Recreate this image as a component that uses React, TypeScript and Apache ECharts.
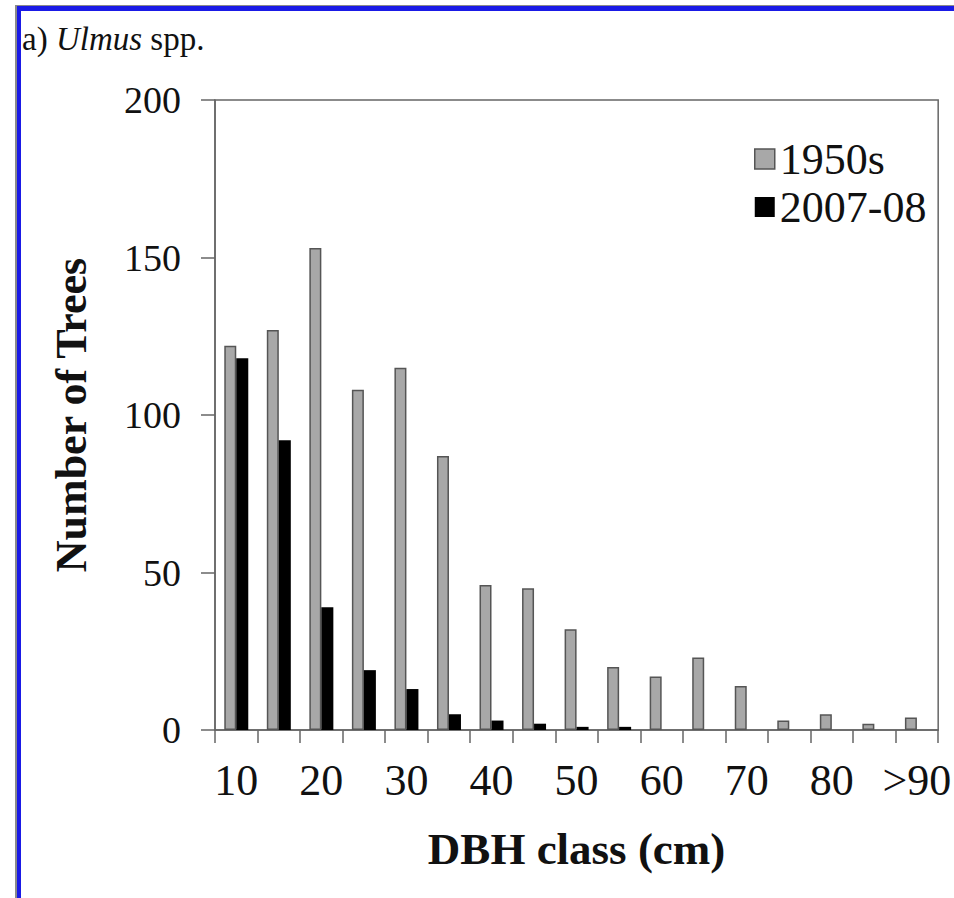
import React, { useEffect, useRef } from "react";
import * as echarts from "echarts";

const categories = ["10", "15", "20", "25", "30", "35", "40", "45", "50", "55", "60", "65", "70", "75", "80", "85", ">90"];
const trees1950s = [122, 127, 153, 108, 115, 87, 46, 45, 32, 20, 17, 23, 14, 3, 5, 2, 4];
const trees2007 = [118, 92, 39, 19, 13, 5, 3, 2, 1, 1, 0, 0, 0, 0, 0, 0, 0];
const yTicks = { min: 0, max: 200, interval: 50 };

const FONT = "Liberation Serif";

export default function App() {
  const ref = useRef<HTMLDivElement>(null);
  useEffect(() => {
    if (!ref.current) return;
    const chart = echarts.init(ref.current, undefined, { renderer: "svg" });
    const legendText = { fontFamily: FONT, fontSize: 44, color: "#111" };
    chart.setOption({
      animation: false,
      backgroundColor: "#ffffff",
      textStyle: { fontFamily: FONT, color: "#111" },
      graphic: [
        { type: "rect", shape: { x: 15, y: 5, width: 939, height: 1 }, style: { fill: "#8a8a8a" }, silent: true },
        { type: "rect", shape: { x: 17, y: 6, width: 937, height: 5 }, style: { fill: "#1a1ae6" }, silent: true },
        { type: "rect", shape: { x: 15, y: 5, width: 2, height: 893 }, style: { fill: "#8a8a8a" }, silent: true },
        { type: "rect", shape: { x: 17, y: 6, width: 4, height: 892 }, style: { fill: "#1a1ae6" }, silent: true },
        {
          type: "text",
          left: 22,
          top: 22,
          style: {
            text: "{n|a) }{i|Ulmus}{n| spp.}",
            rich: {
              n: { fontFamily: FONT, fontSize: 33, fill: "#111" },
              i: { fontFamily: FONT, fontSize: 33, fontStyle: "italic", fill: "#111" },
            },
          },
        },
      ],
      legend: {
        orient: "vertical",
        left: 754,
        top: 137,
        itemWidth: 20,
        itemHeight: 20,
        itemGap: 4,
        padding: 0,
        formatter: "{s|{name}}",
        textStyle: { ...legendText, rich: { s: legendText } },
        data: [
          { name: "1950s", icon: "rect", itemStyle: { color: "#a8a8a8", borderColor: "#555", borderWidth: 1.5 }, textStyle: legendText },
          { name: "2007-08", icon: "rect", itemStyle: { color: "#000", borderColor: "#000", borderWidth: 0 }, textStyle: legendText },
        ],
      },
      grid: {
        left: 215,
        top: 100,
        width: 734,
        height: 630,
        show: true,
        borderColor: "#666",
        borderWidth: 1.5,
        containLabel: false,
      },
      xAxis: {
        type: "category",
        data: categories,
        name: "DBH class (cm)",
        nameLocation: "middle",
        nameGap: 96,
        nameTextStyle: { fontFamily: FONT, fontSize: 45, fontWeight: "bold", color: "#111" },
        axisLine: { lineStyle: { color: "#666", width: 1.5 } },
        axisTick: { show: true, alignWithLabel: false, interval: 0, length: 13, lineStyle: { color: "#666", width: 1.5 } },
        axisLabel: { interval: 1, margin: 28, fontFamily: FONT, fontSize: 44, color: "#111" },
        splitLine: { show: false },
      },
      yAxis: {
        type: "value",
        min: yTicks.min,
        max: yTicks.max,
        interval: yTicks.interval,
        name: "Number of Trees",
        nameLocation: "middle",
        nameGap: 122,
        nameRotate: 90,
        nameTextStyle: { fontFamily: FONT, fontSize: 44, fontWeight: "bold", color: "#111" },
        axisLine: { show: true, lineStyle: { color: "#666", width: 1.5 } },
        axisTick: { show: true, length: 14, lineStyle: { color: "#666", width: 1.5 } },
        axisLabel: { margin: 34, fontFamily: FONT, fontSize: 38, color: "#111" },
        splitLine: { show: false },
      },
      series: [
        {
          name: "1950s",
          type: "bar",
          data: trees1950s,
          barWidth: 12,
          barGap: "0%",
          itemStyle: { color: "#a8a8a8", borderColor: "#555", borderWidth: 1.5 },
        },
        {
          name: "2007-08",
          type: "bar",
          data: trees2007,
          barWidth: 12,
          barGap: "0%",
          itemStyle: { color: "#000" },
        },
      ],
    });
    return () => chart.dispose();
  }, []);
  return (
    <div
      ref={ref}
      style={{ position: "absolute", left: 0, top: 0, width: 954, height: 898 }}
    />
  );
}
